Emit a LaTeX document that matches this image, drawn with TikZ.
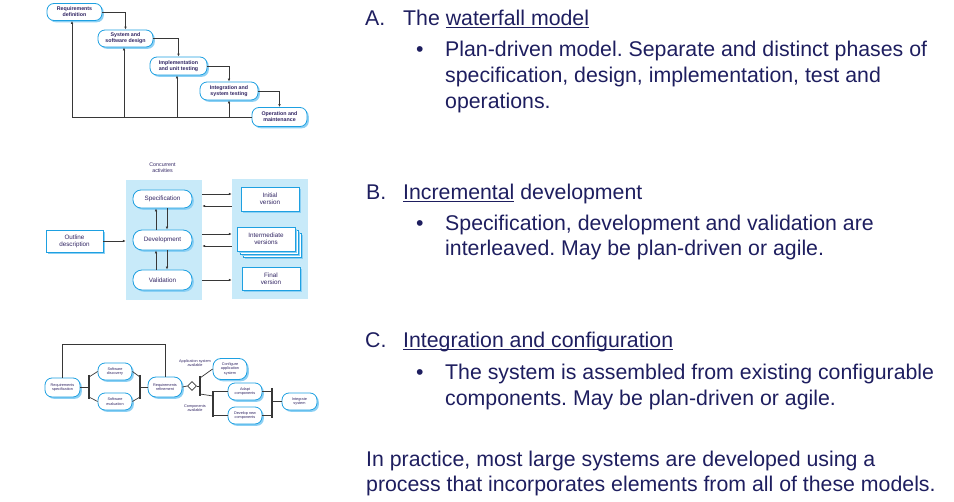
\documentclass[tikz,border=0pt]{standalone}
\usepackage{fontspec}
\setmainfont{Liberation Sans}
\usetikzlibrary{arrows.meta,shadows,shapes.geometric,calc}
\frenchspacing

\definecolor{ink}{RGB}{30,30,95}
\definecolor{lab}{RGB}{50,38,100}
\definecolor{edge}{RGB}{30,160,225}
\definecolor{glow}{RGB}{140,208,244}
\definecolor{panel}{RGB}{200,234,249}
\definecolor{wire}{RGB}{55,55,55}

\tikzset{
  phase/.style={draw=edge, fill=white, line width=0.8pt, rounded corners=7pt,
    inner sep=0pt, align=center, text=lab,
    drop shadow={shadow xshift=1.8pt, shadow yshift=-1.8pt, fill=glow, opacity=1}},
  card/.style={phase, rounded corners=0pt},
  wf/.style={font=\fontsize{5.3}{6}\selectfont\bfseries},
  inc/.style={font=\fontsize{6.3}{7.2}\selectfont},
  ic/.style={font=\fontsize{3.8}{4.4}\selectfont},
  sheet/.style={fill=panel, draw=none, inner sep=0pt},
  arr/.style={draw=wire, line width=0.7pt, -{Latex[length=3pt,width=2.6pt]}},
  wirel/.style={draw=wire, line width=0.7pt},
  bar/.style={draw=wire, line width=1.1pt},
  txt/.style={anchor=base west, inner sep=0pt, text=ink,
    font=\fontsize{21.3}{25}\selectfont},
}

\begin{document}
\begin{tikzpicture}[x=1pt,y=-1pt]
\useasboundingbox (0,0) rectangle (954,502);

% ---------------- Waterfall model ----------------
\node[phase,wf,minimum width=55pt,minimum height=17pt] (req)   at (74.5,12)  {Requirements\\definition};
\node[phase,wf,minimum width=55pt,minimum height=17pt] (sys)   at (125.5,38.5) {System and\\software design};
\node[phase,wf,minimum width=57pt,minimum height=18pt] (impl)  at (178.5,66) {Implementation\\and unit testing};
\node[phase,wf,minimum width=58pt,minimum height=18pt] (integ) at (229,91)   {Integration and\\system testing};
\node[phase,wf,minimum width=55pt,minimum height=19pt] (oper)  at (279.5,117) {Operation and\\maintenance};

\draw[arr] (req.east)   -| (sys.north);
\draw[arr] (sys.east)   -| (impl.north);
\draw[arr] (impl.east)  -| (integ.north);
\draw[arr] (integ.east) -| (oper.north);

\coordinate (fb1) at (72,117);
\coordinate (fb2) at (124,117);
\coordinate (fb3) at (177,117);
\coordinate (fb4) at (229,117);
\draw[wirel] (oper.west) -- (fb1);
\draw[arr] (fb1) -- (fb1 |- req.south);
\draw[arr] (fb2) -- (fb2 |- sys.south);
\draw[arr] (fb3) -- (fb3 |- impl.south);
\draw[arr] (fb4) -- (fb4 |- integ.south);

% ---------------- Incremental development ----------------
\node[sheet,minimum width=76pt,minimum height=120pt] (pL) at (164,240) {};
\node[sheet,minimum width=76pt,minimum height=120pt] (pR) at (270,239) {};
\node[text=lab,align=center,font=\fontsize{5.3}{6.3}\selectfont] (conc) at (162.5,168) {Concurrent\\activities};

\node[phase,inc,minimum width=59pt,minimum height=18pt,rounded corners=8pt] (spec) at (162.5,199) {Specification};
\node[phase,inc,minimum width=59pt,minimum height=20pt,rounded corners=9pt] (dev)  at (162.5,240) {Development};
\node[phase,inc,minimum width=59pt,minimum height=20pt,rounded corners=9pt] (val)  at (162.5,280) {Validation};

\node[card,inc,minimum width=57pt,minimum height=22pt] (outline) at (74.5,241) {Outline\\description};

\node[card,inc,minimum width=58pt,minimum height=24pt] (initial) at (270,199) {Initial\\version};
\node[card,inc,minimum width=58pt,minimum height=24pt] (inter3)  at (272,245) {};
\node[card,inc,minimum width=58pt,minimum height=24pt] (inter2)  at (269,242) {};
\node[card,inc,minimum width=58pt,minimum height=24pt] (inter)   at (266,239) {Intermediate\\versions};
\node[card,inc,minimum width=58pt,minimum height=23pt] (final)   at (271,278.5) {Final\\version};

\draw[arr] (outline.east) -- (pL.west |- outline.east);

\draw[arr] (dev.north -| 156,0) -- (spec.south -| 156,0);
\draw[arr] (spec.south -| 167,0) -- (dev.north -| 167,0);
\draw[arr] (val.north -| 156,0) -- (dev.south -| 156,0);
\draw[arr] (dev.south -| 167,0) -- (val.north -| 167,0);

\draw[arr] (pL.east |- 0,194) -- (pR.west |- 0,194);
\draw[arr] (pR.west |- 0,206) -- (pL.east |- 0,206);
\draw[arr] (pL.east |- 0,234) -- (pR.west |- 0,234);
\draw[arr] (pR.west |- 0,246) -- (pL.east |- 0,246);
\draw[arr] (pL.east |- 0,280) -- (pR.west |- 0,280);

% ---------------- Integration and configuration ----------------
\node[phase,ic,minimum width=35pt,minimum height=19pt,rounded corners=7pt] (rspec) at (62.5,387.5) {Requirements\\specification};
\node[phase,ic,minimum width=34pt,minimum height=17pt,rounded corners=7pt] (sdisc) at (115,371.5) {Software\\discovery};
\node[phase,ic,minimum width=34pt,minimum height=17pt,rounded corners=7pt] (seval) at (115,401.5) {Software\\evaluation};
\node[phase,ic,minimum width=34pt,minimum height=20pt,rounded corners=8pt] (rref)  at (165,387) {Requirements\\refinement};
\node[phase,ic,minimum width=34pt,minimum height=21pt,rounded corners=8pt] (cfg)   at (230,369) {Configure\\application\\system};
\node[phase,ic,minimum width=34pt,minimum height=17pt,rounded corners=7pt] (adapt) at (245,391.5) {Adapt\\components};
\node[phase,ic,minimum width=34pt,minimum height=17pt,rounded corners=7pt] (devnew) at (245,415.5) {Develop new\\components};
\node[phase,ic,minimum width=35pt,minimum height=17pt,rounded corners=7pt] (intsys) at (299.5,401.5) {Integrate\\system};
\node[diamond,draw=wire,fill=white,line width=0.6pt,inner sep=0pt,minimum width=9pt,minimum height=9pt] (dia) at (192,386) {};

\node[text=lab,align=center,ic] (appav) at (195,363) {Application system\\available};
\node[text=lab,align=center,ic] (compav) at (195,408) {Components\\available};

% bars where paths fork and join
\coordinate (b1t) at (89,375);  \coordinate (b1b) at (89,399);
\coordinate (b2t) at (140,375); \coordinate (b2b) at (140,399);
\coordinate (b3t) at (200,376); \coordinate (b3b) at (200,396);
\coordinate (b4t) at (213,391); \coordinate (b4b) at (213,417);
\coordinate (b5t) at (272,388); \coordinate (b5b) at (272,418);
\draw[bar] (b1t) -- (b1b);
\draw[bar] (b2t) -- (b2b);
\draw[bar] (b3t) -- (b3b);
\draw[bar] (b4t) -- (b4b);
\draw[bar] (b5t) -- (b5b);

\draw[wirel] (rspec.east) -- (rspec.east -| b1t);
\draw[wirel] ($(b1t)+(0,2)$) -- (sdisc.west);
\draw[wirel] ($(b1b)+(0,-2)$) -- (seval.west);
\draw[wirel] (sdisc.east) -- ($(b2t)+(0,2)$);
\draw[wirel] (seval.east) -- ($(b2b)+(0,-2)$);
\draw[wirel] (rref.west -| b2t) -- (rref.west);
\draw[wirel] (rref.north) -- ++(0,-32) -| (62,378);

\draw[wirel] (rref.east) -- (dia.west);
\draw[wirel] (dia.east) -- (dia.east -| b3t);
\draw[wirel] ($(b3t)+(0,2)$) -- (cfg.west);
\draw[wirel] ($(b3b)+(0,-2)$) -- ($(b4t)+(0,5)$);
\draw[wirel] (adapt.west -| b4t) -- (adapt.west);
\draw[wirel] (devnew.west -| b4t) -- (devnew.west);
\draw[wirel] (adapt.east) -- (adapt.east -| b5t);
\draw[wirel] (devnew.east) -- (devnew.east -| b5t);
\draw[wirel] (intsys.west -| b5t) -- (intsys.west);

% ---------------- Text ----------------
\node[txt] (Ak) at (365,26) {A.};
\node[txt] (At) at (403,26) {The \underline{waterfall model}};
\node[txt] (Ab) at (416,57) {•};
\node[txt] (A1) at (445,57) {Plan-driven model. Separate and distinct phases of};
\node[txt] (A2) at (445,83) {specification, design, implementation, test and};
\node[txt] (A3) at (445,108.5) {operations.};

\node[txt] (Bk) at (366,200) {B.};
\node[txt] (Bt) at (403,200) {\underline{Incremental} development};
\node[txt] (Bb) at (416,231) {•};
\node[txt] (B1) at (445,231) {Specification, development and validation are};
\node[txt] (B2) at (445,256) {interleaved. May be plan-driven or agile.};

\node[txt] (Ck) at (365,348) {C.};
\node[txt] (Ct) at (403,348) {\underline{\smash{Integration and configuration}}};
\node[txt] (Cb) at (416,380) {•};
\node[txt] (C1) at (445,380) {The system is assembled from existing configurable};
\node[txt] (C2) at (445,405.5) {components. May be plan-driven or agile.};

\node[txt] (D1) at (366,467) {In practice, most large systems are developed using a};
\node[txt] (D2) at (366,492) {process that incorporates elements from all of these models.};
\end{tikzpicture}
\end{document}
